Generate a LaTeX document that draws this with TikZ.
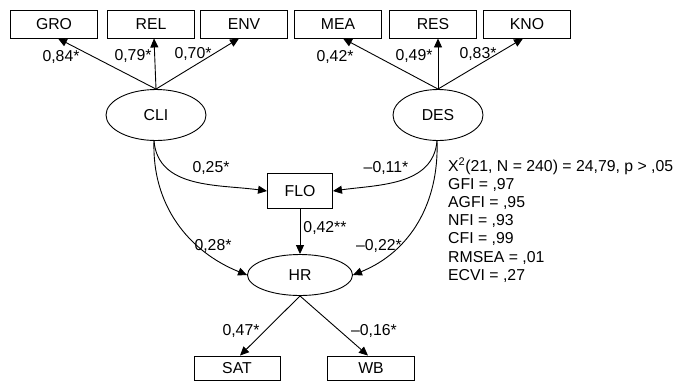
\documentclass[tikz,border=0pt]{standalone}
\usepackage{fontspec}
\setmainfont{Liberation Sans}
\usetikzlibrary{arrows.meta,shapes.geometric,calc}
\begin{document}
\begin{tikzpicture}[x=1pt,y=-1pt,
  every node/.style={font=\fontsize{15.8}{18}\selectfont, inner sep=0pt},
  obs/.style={draw, line width=0.9pt, minimum width=87pt, minimum height=28pt},
  lat/.style={draw, ellipse, line width=0.9pt},
  arr/.style={line width=0.9pt, -{Triangle[length=9pt,width=8pt]}},
  lbl/.style={}
]
\useasboundingbox (0,0) rectangle (676,384);
% indicators
\node[obs] (GRO) at (54,24) {GRO};
\node[obs] (REL) at (151,24) {REL};
\node[obs] (ENV) at (244,24) {ENV};
\node[obs] (MEA) at (338,24) {MEA};
\node[obs] (RES) at (433,24) {RES};
\node[obs] (KNO) at (527,24) {KNO};
% latents
\node[lat, minimum width=100pt, minimum height=51pt] (CLI) at (156,115) {CLI};
\node[lat, minimum width=90pt, minimum height=51pt] (DES) at (438,115) {DES};
\node[obs, minimum width=65pt, minimum height=35pt] (FLO) at (300,191) {FLO};
\node[lat, minimum width=105pt, minimum height=41pt] (HR) at (300,275) {HR};
\node[obs, minimum width=86pt, minimum height=24pt] (SAT) at (237,368) {SAT};
\node[obs, minimum width=87pt, minimum height=24pt] (WB) at (371,368) {WB};
% coordinates for arrow tips
\coordinate (tGRO) at ($(GRO.south)+(4,0)$);
\coordinate (tREL) at ($(REL.south)+(3,0)$);
\coordinate (tENV) at ($(ENV.south)+(-5,0)$);
\coordinate (tMEA) at ($(MEA.south)+(5,0)$);
\coordinate (tRES) at ($(RES.south)+(5,0)$);
\coordinate (tKNO) at ($(KNO.south)+(-4,0)$);
\coordinate (tSAT) at ($(SAT.north)+(3,0)$);
\coordinate (tWB) at ($(WB.north)+(-3,0)$);
\coordinate (cs) at ($(CLI.south)+(-2,0)$);
\coordinate (ds) at ($(DES.south)+(-1,0)$);
% loadings
\draw[arr] (CLI.north) -- (tGRO);
\draw[arr] (CLI.north) -- (tREL);
\draw[arr] (CLI.north) -- (tENV);
\draw[arr] (DES.north) -- (tMEA);
\draw[arr] (DES.north) -- (tRES);
\draw[arr] (DES.north) -- (tKNO);
\node[lbl] (l1) at (61,57) {0,84*};
\node[lbl] (l2) at (133,56) {0,79*};
\node[lbl] (l3) at (193,54) {0,70*};
\node[lbl] (l4) at (335,57) {0,42*};
\node[lbl] (l5) at (414,56) {0,49*};
\node[lbl] (l6) at (478,54) {0,83*};
% structural paths
\draw[arr] (cs) to[out=-85, in=172] (FLO.west);
\draw[arr] (cs) to[out=-92, in=158] (HR.west);
\draw[arr] (ds) to[out=-95, in=8] (FLO.east);
\draw[arr] (ds) to[out=-88, in=22] (HR.east);
\draw[arr] (FLO.south) -- (HR.north);
\draw[arr] (HR.south) -- (tSAT);
\draw[arr] (HR.south) -- (tWB);
\node[lbl] (l7) at (211,168) {0,25*};
\node[lbl] (l8) at (386,168) {\textendash0,11*};
\node[lbl] (l9) at (325,228) {0,42**};
\node[lbl] (l10) at (213,246) {0,28*};
\node[lbl] (l11) at (379,246) {\textendash0,22*};
\node[lbl] (l12) at (241,331) {0,47*};
\node[lbl] (l13) at (374,331) {\textendash0,16*};
% fit statistics
\node[anchor=base west] (f1) at (448,171) {X\textsuperscript{2}(21, N = 240) = 24,79, p > ,05};
\node[anchor=base west] (f2) at (448,189) {GFI = ,97};
\node[anchor=base west] (f3) at (448,207) {AGFI = ,95};
\node[anchor=base west] (f4) at (448,225) {NFI = ,93};
\node[anchor=base west] (f5) at (448,243) {CFI = ,99};
\node[anchor=base west] (f6) at (448,262) {RMSEA = ,01};
\node[anchor=base west] (f7) at (448,280) {ECVI = ,27};
\end{tikzpicture}
\end{document}
